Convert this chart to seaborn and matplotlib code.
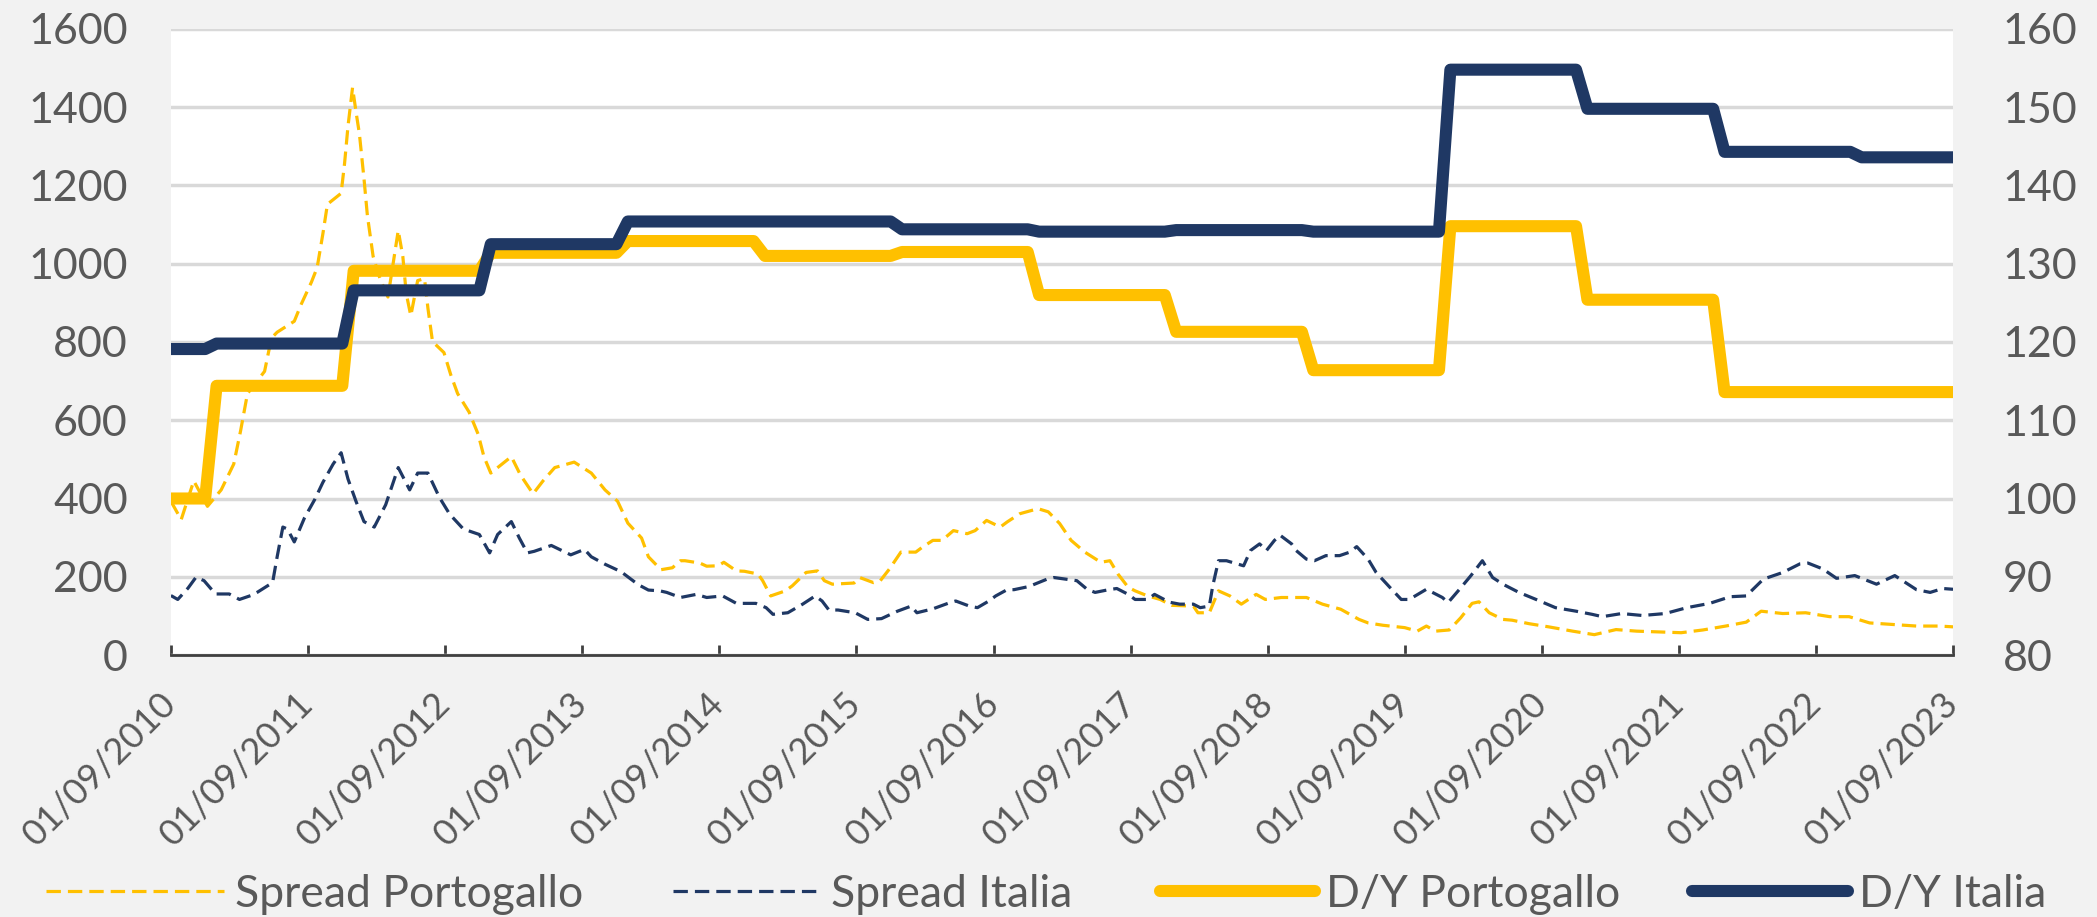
import pandas as pd
import numpy as np
import matplotlib
matplotlib.use('Agg')
import matplotlib.pyplot as plt
import matplotlib.dates as mdates
import seaborn as sns

# ── Data (x = months since 01/09/2010) ──────────────────────────────────────
START = pd.Timestamp('2010-09-01')
tick_years = list(range(2010, 2024))
labels = ['Spread Portogallo', 'Spread Italia', 'D/Y Portogallo', 'D/Y Italia']

spread_pt_m = [0, 0.9, 2.0, 3.2, 4.4, 5.5, 6.1, 6.7, 8.2, 8.8,
               9.3, 10.8, 11.4, 12.3, 12.8, 13.3, 13.7, 14.9, 15.2, 15.5,
               15.9, 16.2, 16.5, 16.9, 17.2, 17.7, 18.3, 19.0, 19.4, 19.9,
               20.3, 20.6, 21.0, 21.6, 22.2, 22.5, 22.9, 23.9, 24.5, 25.1,
               26.1, 26.9, 27.4, 28.0, 28.6, 29.8, 30.6, 31.7, 32.6, 33.6,
               35.3, 36.8, 38.0, 39.1, 40.0, 41.2, 41.8, 42.9, 43.9, 44.6,
               45.0, 46.3, 46.9, 47.9, 48.4, 49.5, 50.2, 51.4, 51.8, 52.5,
               53.8, 54.4, 55.6, 56.6, 57.2, 57.9, 59.8, 60.3, 61.5, 62.1,
               62.9, 63.9, 65.2, 65.8, 66.7, 67.5, 68.5, 69.7, 70.4, 71.4,
               72.6, 73.2, 74.3, 75.9, 76.8, 77.8, 78.8, 80.0, 81.4, 82.2,
               82.9, 83.8, 84.4, 85.5, 86.6, 87.6, 89.5, 89.9, 90.9, 91.7,
               92.7, 93.7, 95.0, 95.8, 97.2, 99.4, 100.8, 102.4, 104.0, 104.8,
               106.1, 108.0, 109.1, 109.9, 110.7, 111.9, 112.9, 113.9, 114.5, 115.4,
               116.6, 117.4, 118.9, 120.6, 122.7, 124.6, 126.5, 128.3, 130.3, 132.2,
               134.1, 136.1, 137.9, 139.2, 141.1, 143.1, 145.2, 146.9, 148.7, 150.7,
               152.8, 154.8, 156]
spread_pt_v = [393, 346, 445, 380, 422, 488, 573, 668, 725, 810,
               825, 853, 896, 953, 990, 1076, 1152, 1180, 1256, 1351,
               1450, 1389, 1332, 1218, 1123, 1019, 962, 915, 990, 1085,
               1019, 924, 867, 957, 962, 886, 801, 773, 716, 668,
               621, 564, 507, 465, 479, 507, 460, 412, 446, 479,
               493, 465, 422, 393, 337, 299, 251, 218, 223, 241,
               241, 235, 227, 228, 237, 215, 214, 207, 190, 151,
               164, 177, 211, 215, 190, 181, 184, 198, 185, 190,
               220, 263, 263, 276, 293, 293, 318, 310, 318, 344,
               327, 340, 361, 374, 366, 336, 293, 263, 237, 241,
               207, 173, 164, 151, 142, 127, 125, 108, 108, 164,
               151, 130, 155, 142, 147, 147, 130, 117, 91, 82,
               76, 70, 61, 74, 61, 64, 95, 132, 136, 108,
               91, 89, 80, 72, 61, 52, 65, 61, 59, 57,
               64, 74, 84, 112, 106, 108, 98, 98, 82, 78,
               74, 74, 72]

spread_it_m = [0, 0.6, 1.5, 2.2, 2.9, 3.9, 5.1, 6.0, 7.0, 7.6,
               8.9, 9.3, 9.8, 10.2, 10.8, 11.7, 12.6, 13.3, 14.2, 14.9,
               15.5, 16.2, 16.9, 17.8, 18.8, 19.4, 19.9, 20.9, 21.6, 22.5,
               23.5, 24.4, 25.6, 27.0, 27.9, 28.6, 29.8, 30.5, 31.2, 31.8,
               33.3, 35.0, 36.2, 36.8, 38.0, 39.4, 40.9, 41.8, 42.8, 43.4,
               44.6, 46.0, 46.9, 48.3, 49.5, 51.2, 52.1, 52.7, 54.0, 55.3,
               56.4, 57.0, 57.6, 58.4, 59.9, 61.0, 62.2, 63.6, 64.8, 65.3,
               66.7, 68.2, 68.7, 69.9, 70.6, 71.6, 72.2, 73.2, 73.8, 75.1,
               76.7, 77.3, 78.3, 79.3, 80.2, 80.9, 82.1, 82.8, 83.8, 84.4,
               85.5, 86.1, 87.4, 88.3, 89.5, 90.1, 90.9, 91.2, 91.7, 92.4,
               93.9, 94.5, 95.3, 95.9, 96.6, 97.1, 98.1, 98.5, 99.4, 100.1,
               101.1, 102.3, 103.2, 103.8, 104.8, 105.5, 106.7, 107.7, 108.4, 109.9,
               111.3, 111.8, 112.8, 113.8, 114.8, 115.7, 116.6, 118.0, 119.5, 121.2,
               123.0, 124.4, 125.3, 127.0, 128.8, 130.8, 132.7, 134.7, 136.5, 137.9,
               139.4, 141.1, 142.6, 143.3, 144.6, 145.8, 147.4, 149.3, 150.9, 152.8,
               154.0, 155.1, 156]
spread_it_v = [152, 142, 171, 199, 190, 156, 156, 142, 152, 161,
               185, 251, 327, 322, 289, 351, 398, 441, 488, 517,
               450, 393, 341, 327, 384, 436, 479, 422, 465, 465,
               403, 360, 322, 308, 261, 308, 341, 299, 261, 265,
               280, 256, 270, 251, 232, 213, 180, 166, 164, 160,
               147, 155, 147, 151, 132, 132, 121, 104, 108, 130,
               151, 138, 115, 115, 108, 91, 93, 112, 125, 108,
               118, 134, 138, 125, 121, 138, 151, 167, 167, 175,
               194, 198, 194, 190, 168, 160, 167, 170, 155, 142,
               142, 155, 135, 130, 130, 121, 125, 177, 241, 241,
               228, 267, 284, 267, 293, 306, 284, 267, 245, 241,
               254, 254, 263, 277, 245, 211, 173, 142, 142, 168,
               147, 134, 168, 203, 241, 198, 181, 160, 142, 121,
               112, 104, 98, 106, 101, 106, 121, 132, 149, 151,
               194, 211, 233, 235, 220, 196, 203, 181, 203, 167,
               160, 170, 168]

dy_pt_m = [0, 3, 4, 15, 16, 27, 28, 39, 40, 51, 52, 63, 64,
           75, 76, 87, 88, 99, 100, 111, 112, 123, 124, 135, 136, 156]
dy_pt_v = [100.0, 100.0, 114.4, 114.4, 129.1, 129.1, 131.4, 131.4, 132.9, 132.9, 131.0, 131.0, 131.5,
           131.5, 126.0, 126.0, 121.3, 121.3, 116.4, 116.4, 134.8, 134.8, 125.4, 125.4, 113.6, 113.6]

dy_it_m = [0, 3, 4, 15, 16, 27, 28, 39, 40, 63, 64, 75, 76,
           87, 88, 99, 100, 111, 112, 123, 124, 135, 136, 147, 148, 156]
dy_it_v = [119.1, 119.1, 119.8, 119.8, 126.6, 126.6, 132.5, 132.5, 135.4, 135.4, 134.4, 134.4, 134.1,
           134.1, 134.3, 134.3, 134.1, 134.1, 154.8, 154.8, 149.8, 149.8, 144.3, 144.3, 143.6, 143.6]


def to_dates(months):
    return START + pd.to_timedelta(np.array(months) * 30.4375, unit='D')


# ── Style ────────────────────────────────────────────────────────────────────
YELLOW = '#FFC000'
NAVY = '#1F3864'
TEXT = '#595959'
sns.set_theme(style='white')
plt.rcParams['font.family'] = ['Lato', 'DejaVu Sans']

fig = plt.figure(figsize=(20.97, 9.17), dpi=100, facecolor='#F2F2F2')
ax = fig.add_axes([0.0815, 0.2857, 0.8498, 0.6827])
ax.set_facecolor('white')
ax2 = ax.twinx()

# ── Spreads (left axis) ──────────────────────────────────────────────────────
dash = (0, (4.5, 2.2))
sns.lineplot(x=to_dates(spread_pt_m), y=spread_pt_v, ax=ax, color=YELLOW,
             linewidth=2.3, linestyle=dash, errorbar=None, label=labels[0])
sns.lineplot(x=to_dates(spread_it_m), y=spread_it_v, ax=ax, color=NAVY,
             linewidth=2.3, linestyle=dash, errorbar=None, label=labels[1])

# ── D/Y (right axis) ─────────────────────────────────────────────────────────
sns.lineplot(x=to_dates(dy_pt_m), y=dy_pt_v, ax=ax2, color=YELLOW,
             linewidth=8.7, solid_joinstyle='round', errorbar=None, label=labels[2])
sns.lineplot(x=to_dates(dy_it_m), y=dy_it_v, ax=ax2, color=NAVY,
             linewidth=8.7, solid_joinstyle='round', errorbar=None, label=labels[3])

for a in (ax, ax2):
    if a.get_legend() is not None:
        a.get_legend().remove()
    for side in ('left', 'right', 'top', 'bottom'):
        a.spines[side].set_visible(False)

ax.spines['bottom'].set_visible(True)
ax.spines['bottom'].set_color('#404040')
ax.spines['bottom'].set_linewidth(2.0)

ax.set_ylim(0, 1600)
ax.set_yticks(range(0, 1601, 200))
ax2.set_ylim(80, 160)
ax2.set_yticks(range(80, 161, 10))
ax.set_xlim(START, pd.Timestamp('2023-09-01'))
ax.set_xticks([pd.Timestamp(f'{y}-09-01') for y in tick_years])
ax.xaxis.set_major_formatter(mdates.DateFormatter('%d/%m/%Y'))

ax.grid(axis='y', color='#D9D9D9', linewidth=2.5)
ax.grid(axis='x', visible=False)
ax2.grid(False)
ax.set_axisbelow(True)
ax.set_xlabel('')
ax.set_ylabel('')
ax2.set_ylabel('')

ax.tick_params(axis='x', direction='in', length=7, width=2, color='#404040',
               pad=31, labelsize=26, labelcolor=TEXT, bottom=True)
ax.tick_params(axis='y', length=0, pad=31, labelsize=31, labelcolor=TEXT)
ax2.tick_params(axis='y', length=0, pad=36, labelsize=31, labelcolor=TEXT)
for t in ax.get_xticklabels():
    t.set_rotation(45)
    t.set_ha('right')
    t.set_va('center')
    t.set_rotation_mode('anchor')

# ── Legend: one entry each, placed along the bottom row ─────────────────────
h1, l1 = ax.get_legend_handles_labels()
h2, l2 = ax2.get_legend_handles_labels()
handles = h1 + h2
leg_x = [0.022, 0.321, 0.553, 0.807]
leg_len = [4.0, 3.3, 3.5, 3.5]
for h, lab, x, hl in zip(handles, labels, leg_x, leg_len):
    fig.legend([h], [lab], loc='center left', bbox_to_anchor=(x, 0.025),
               frameon=False, fontsize=32, handlelength=hl, borderpad=0,
               borderaxespad=0, handletextpad=0.25, labelcolor=TEXT)

fig.savefig('out.png', dpi=100, facecolor=fig.get_facecolor())
